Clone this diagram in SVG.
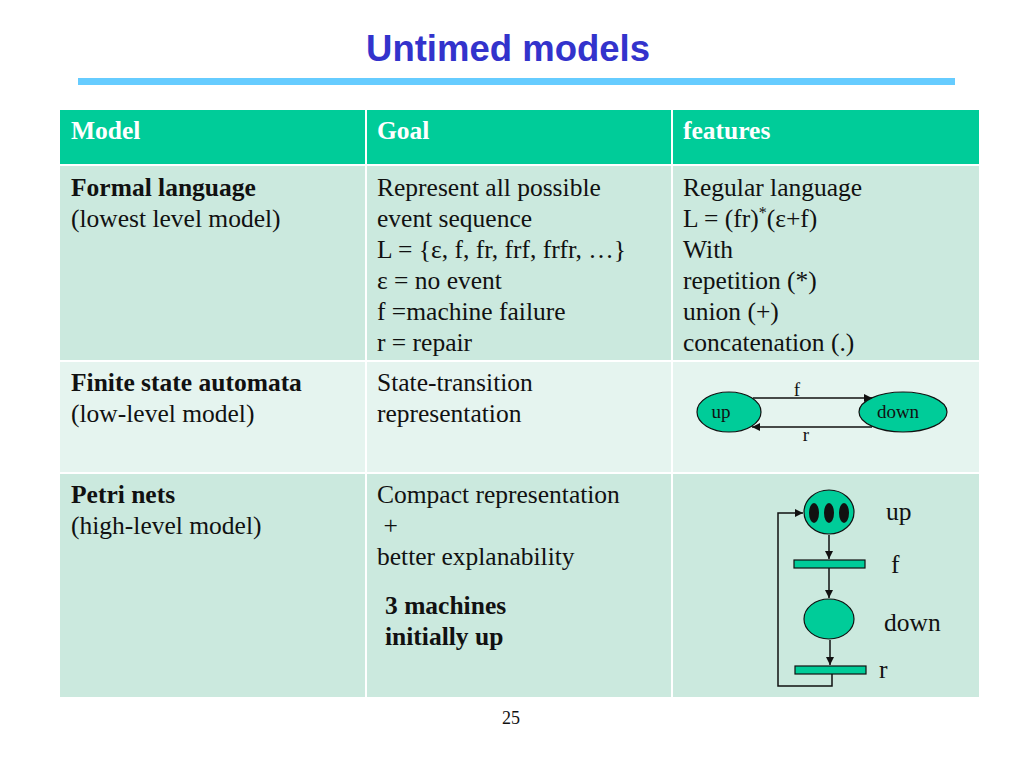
<svg xmlns="http://www.w3.org/2000/svg" width="1024" height="768" viewBox="0 0 1024 768">
<style>
.b{font-weight:bold}
.h{font-weight:bold;fill:#fff}
.s{font-size:19px}
.cell1{fill:#cbe9de}
.cell2{fill:#e5f4ef}
.hd{fill:#00cc99}
.node{fill:#00cc99;stroke:#111;stroke-width:1.2}
.ln{stroke:#111;stroke-width:1.5;fill:none}
</style>
<defs>
<marker id="ar" viewBox="0 0 10 10" refX="10" refY="5" markerWidth="8" markerHeight="8" orient="auto" markerUnits="userSpaceOnUse">
<path d="M0,0 L10,5 L0,10 z" fill="#111"/>
</marker>
</defs>
<rect width="1024" height="768" fill="#fff"/>
<text x="508" y="61" text-anchor="middle" font-family="Liberation Sans, Arial, sans-serif" font-size="36.5" font-weight="bold" fill="#3333cc">Untimed models</text>
<rect x="78" y="78" width="877" height="7" fill="#66ccff"/>

<g id="table" font-family="Liberation Serif, Times New Roman, serif" font-size="25.5" fill="#111">
<rect class="hd" x="60" y="110" width="305" height="54"/>
<rect class="hd" x="367" y="110" width="304" height="54"/>
<rect class="hd" x="673" y="110" width="306" height="54"/>
<rect class="cell1" x="60" y="166" width="305" height="194"/>
<rect class="cell1" x="367" y="166" width="304" height="194"/>
<rect class="cell1" x="673" y="166" width="306" height="194"/>
<rect class="cell2" x="60" y="362" width="305" height="110"/>
<rect class="cell2" x="367" y="362" width="304" height="110"/>
<rect class="cell2" x="673" y="362" width="306" height="110"/>
<rect class="cell1" x="60" y="474" width="305" height="223"/>
<rect class="cell1" x="367" y="474" width="304" height="223"/>
<rect class="cell1" x="673" y="474" width="306" height="223"/>

<text class="h" x="71" y="139">Model</text>
<text class="h" x="377" y="139">Goal</text>
<text class="h" x="683" y="139">features</text>

<text class="b" x="71" y="196">Formal language</text>
<text x="71" y="227">(lowest level model)</text>
<text x="377" y="196">Represent all possible</text>
<text x="377" y="227">event sequence</text>
<text x="377" y="258">L = {ε, f, fr, frf, frfr, …}</text>
<text x="377" y="289">ε = no event</text>
<text x="377" y="320">f =machine failure</text>
<text x="377" y="351">r = repair</text>
<text x="683" y="196">Regular language</text>
<text x="683" y="227">L = (fr)<tspan dy="-9" font-size="16">*</tspan><tspan dy="9">(ε+f)</tspan></text>
<text x="683" y="258">With</text>
<text x="683" y="289">repetition (*)</text>
<text x="683" y="320">union (+)</text>
<text x="683" y="351">concatenation (.)</text>

<text class="b" x="71" y="391">Finite state automata</text>
<text x="71" y="422">(low-level model)</text>
<text x="377" y="391">State-transition</text>
<text x="377" y="422">representation</text>

<text class="b" x="71" y="503">Petri nets</text>
<text x="71" y="534">(high-level model)</text>
<text x="377" y="503">Compact representation</text>
<text x="377" y="534" xml:space="preserve"> +</text>
<text x="377" y="565">better explanability</text>
<text class="b" x="385" y="614">3 machines</text>
<text class="b" x="385" y="645">initially up</text>
</g>

<g font-family="Liberation Serif, Times New Roman, serif" font-size="25.5" fill="#111">
<g id="fsa-up">
<ellipse class="node" cx="729" cy="412" rx="32" ry="20"/>
<text class="s" x="721" y="418" text-anchor="middle">up</text>
</g>
<g id="fsa-down">
<ellipse class="node" cx="903" cy="412" rx="44" ry="20"/>
<text class="s" x="898" y="418" text-anchor="middle">down</text>
</g>

<g id="pn-up">
<ellipse class="node" cx="829" cy="512" rx="25" ry="22"/>
<ellipse cx="814" cy="513" rx="5" ry="10" fill="#111"/>
<ellipse cx="829" cy="513" rx="5" ry="10" fill="#111"/>
<ellipse cx="844" cy="513" rx="5" ry="10" fill="#111"/>
<text x="886" y="520">up</text>
</g>
<g id="pn-f">
<rect class="node" x="794" y="560" width="71" height="8"/>
<text x="891" y="573">f</text>
</g>
<g id="pn-down">
<ellipse class="node" cx="829" cy="619" rx="25" ry="20"/>
<text x="884" y="631">down</text>
</g>
<g id="pn-r">
<rect class="node" x="795" y="666" width="71" height="8"/>
<text x="879" y="678">r</text>
</g>

<g id="connectors">
<line class="ln" x1="753" y1="398" x2="872" y2="398" marker-end="url(#ar)"/>
<text class="s" font-size="17" x="797" y="396" text-anchor="middle">f</text>
<line class="ln" x1="872" y1="427" x2="752" y2="427" marker-end="url(#ar)"/>
<text class="s" font-size="17" x="806" y="441" text-anchor="middle">r</text>
<line class="ln" x1="829" y1="535" x2="829" y2="559" marker-end="url(#ar)"/>
<line class="ln" x1="829" y1="568" x2="829" y2="598" marker-end="url(#ar)"/>
<line class="ln" x1="830" y1="640" x2="830" y2="665" marker-end="url(#ar)"/>
<polyline class="ln" points="832,674 832,686 778,686 778,513 803,513" marker-end="url(#ar)"/>
</g>
</g>

<text x="511" y="724" text-anchor="middle" font-family="Liberation Serif, Times New Roman, serif" font-size="18" fill="#111">25</text>
</svg>
